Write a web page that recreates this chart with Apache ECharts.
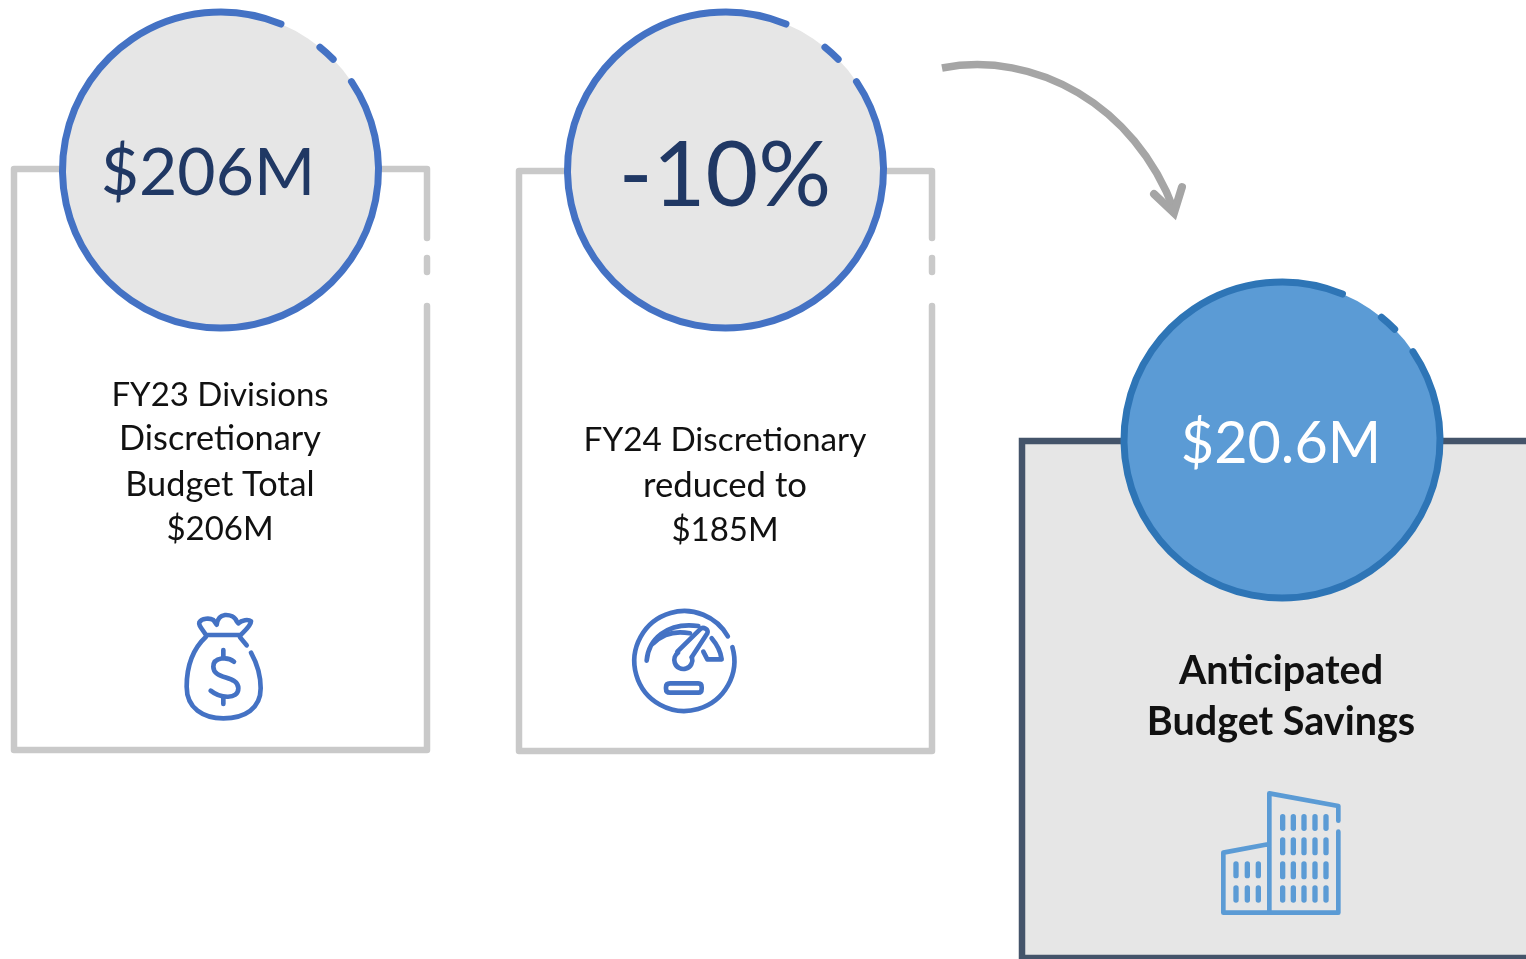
<!DOCTYPE html>
<html><head><meta charset="utf-8">
<style>html,body{margin:0;padding:0;background:#fff}#c{width:1526px;height:959px}</style>
<script src="https://cdn.jsdelivr.net/npm/echarts@6/dist/echarts.min.js"></script>
</head><body><div id="c"></div>
<script>
const metricLabels = ['$206M', '-10%', '$20.6M'];
const card1Lines = ['FY23 Divisions', 'Discretionary', 'Budget Total', '$206M'];
const card2Lines = ['FY24 Discretionary', 'reduced to', '$185M'];
const card3Lines = ['Anticipated', 'Budget Savings'];

const FONT = 'Lato, "Open Sans", sans-serif';
const BLUE = '#4472c4', GREY = '#c9c9c9', FILL = '#e6e6e6', NAVY = '#203864';
const D2R = Math.PI/180;

// small path shape: M L H V C Q Z, plus R cx cy r a0 a1 for a clockwise arc in degrees
echarts.graphic.registerShape('sketchPath', echarts.graphic.extendShape({
  shape:{d:''},
  buildPath(ctx, s){
    const toks = s.d.match(/[A-Za-z]|-?[\d.]+/g)||[]; let i=0, x=0, y=0, cmd='', sx=0, sy=0;
    const n=()=>parseFloat(toks[i++]);
    while(i<toks.length){
      if(/[A-Za-z]/.test(toks[i])) cmd=toks[i++];
      if(cmd==='M'){x=n();y=n();sx=x;sy=y;ctx.moveTo(x,y);cmd='L';}
      else if(cmd==='L'){x=n();y=n();ctx.lineTo(x,y);}
      else if(cmd==='H'){x=n();ctx.lineTo(x,y);}
      else if(cmd==='V'){y=n();ctx.lineTo(x,y);}
      else if(cmd==='C'){const a=n(),b=n(),c=n(),d=n();x=n();y=n();ctx.bezierCurveTo(a,b,c,d,x,y);}
      else if(cmd==='Q'){const a=n(),b=n();x=n();y=n();ctx.quadraticCurveTo(a,b,x,y);}
      else if(cmd==='R'){const cx=n(),cy=n(),r=n(),a0=n()*D2R,a1=n()*D2R;
        ctx.moveTo(cx+r*Math.cos(a0),cy+r*Math.sin(a0));ctx.arc(cx,cy,r,a0,a1,false);x=cx+r*Math.cos(a1);y=cy+r*Math.sin(a1);}
      else if(cmd==='Z'){ctx.closePath();x=sx;y=sy;}
    }
  }
}));

const els = [];
function p(d, stroke, lw, extra, st) {
  els.push(Object.assign({type:'sketchPath', shape:{d}, style:Object.assign({fill:'none', stroke, lineWidth:lw, lineCap:'round', lineJoin:'round'}, st||{})}, extra||{}));
}
function ring(cx, cy, r, fill, stroke) {
  els.push({type:'circle', shape:{cx, cy, r}, style:{fill}});
  p(`R${cx} ${cy} ${r} -34 292.5`, stroke, 7);
  p(`R${cx} ${cy} ${r} -51 -44.5`, stroke, 7);
}
function txt(s, x, y, size, color, weight) {
  els.push({type:'text', x, y, style:{text:s, x:0, y:0, fill:color, font:(weight||'normal')+' '+size+'px '+FONT, textAlign:'center', textVerticalAlign:'middle'}});
}
function lines(list, x, ys, sizes, weight) { list.forEach((s,i)=>txt(s, x, ys[i], sizes[i], '#111', weight)); }

// card 1
p('M60 169H14V750H427V306M427 258V272M427 169V238M382 169H427', GREY, 6.5);
// card 2
p('M565 171H519V751H932V306M932 258V272M932 171V238M887 171H932', GREY, 6.5);
// card 3
p('M1526 441H1022V959H1526Z', 'none', 0, {}, {fill:FILL, stroke:null});
p('M1122 441H1022V958H1530M1442 441H1530', '#44546a', 6.5, {}, {lineCap:'butt', lineJoin:'miter'});

ring(220.5, 170, 158, FILL, BLUE);
ring(725.5, 170, 158, FILL, BLUE);
ring(1282, 440, 158, '#5b9bd5', '#2e75b6');

txt(metricLabels[0], 208, 174, 66, NAVY);
txt(metricLabels[1], 725, 177, 91, NAVY);
txt(metricLabels[2], 1281, 444, 57.5, '#fff');

lines(card1Lines, 220, [395,439,484.5,529], [33,34.3,34.3,33]);
lines(card2Lines, 725, [440,485.5,530], [33.3,34.7,33]);
lines(card3Lines, 1281, [671,722], [39.5,39.5], 'bold');

// arrow
p('M942 68C1035 50 1135 105 1174 210', '#a5a5a5', 7.5, {}, {lineCap:'butt'});
p('M1154 194L1174 213L1182 187', '#a5a5a5', 8, {}, {lineJoin:'miter', miterLimit:10});

// icons, drawn in 3x units
const S = 1/3;
const bag = {x:170, y:600, scaleX:S, scaleY:S};
p('M108 105C95 85 85 75 88 67C95 54 120 54 130 60L140 74C142 57 150 47 165 45C180 44 195 50 200 64L205 70C215 60 235 57 243 64C243 77 225 92 212 105Z', BLUE, 14, bag);
p('M108 110C70 145 50 190 50 260C50 325 100 355 160 355C225 355 272 325 272 265C272 220 258 185 243 158', BLUE, 14, bag);
p('M230 136L210 112', BLUE, 14, bag);
p('M192 185C175 170 130 170 130 200C130 240 205 225 205 265C205 300 150 295 122 272', BLUE, 14, bag);
p('M160 150V172M160 292V312', BLUE, 14, bag);

const gauge = {x:620, y:600, scaleX:S, scaleY:S};
p('R193 183 150 -16 330.5', BLUE, 14, gauge);
p('M80 182C85 120 140 65 235 78', BLUE, 14, gauge);
p('M100 130C130 100 170 92 210 100', BLUE, 14, gauge);
p('M275 115C292 135 302 155 305 178H262L250 155', BLUE, 14, gauge);
p('M172 155L240 88C250 78 268 90 262 100L215 172', BLUE, 14, gauge);
p('R190 180 27 -18 234', BLUE, 14, gauge);
p('M150 250H235Q245 250 245 262V266Q245 278 235 278H150Q138 278 138 266V262Q138 250 150 250Z', BLUE, 14, gauge);

const BL = '#5b9bd5';
const bld = {x:1210, y:780, scaleX:S, scaleY:S};
p('M178 398V40L385 78V122M385 155V398H40V218L178 192', BL, 14, bld);
const tallX=[218,250,282,315,348], tallY=[[110,145],[180,218],[252,290],[324,360]];
tallX.forEach(x=>tallY.forEach(r=>p('M'+x+' '+r[0]+'V'+r[1], BL, 16, bld)));
[78,112,145].forEach(x=>[[252,287],[324,360]].forEach(r=>p('M'+x+' '+r[0]+'V'+r[1], BL, 16, bld)));

echarts.init(document.getElementById('c')).setOption({animation:false, graphic:{elements:els}});
</script></body></html>
